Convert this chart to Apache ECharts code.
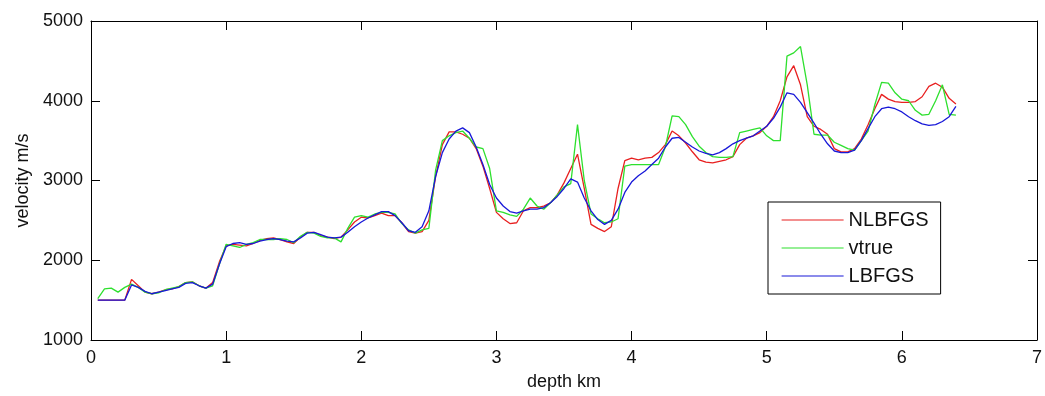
<!DOCTYPE html>
<html>
<head>
<meta charset="utf-8">
<script src="https://cdn.jsdelivr.net/npm/echarts@6/dist/echarts.min.js"></script>
<style>
html,body{margin:0;padding:0;background:#fff;}
#c{width:1045px;height:396px;}
</style>
</head>
<body>
<div id="c"></div>
<script>
const depth = [0.05,0.10,0.15,0.20,0.25,0.30,0.35,0.40,0.45,0.50,0.55,0.60,0.65,0.70,0.75,0.80,0.85,0.90,0.95,1.00,
1.05,1.10,1.15,1.20,1.25,1.30,1.35,1.40,1.45,1.50,1.55,1.60,1.65,1.70,1.75,1.80,1.85,1.90,1.95,2.00,
2.05,2.10,2.15,2.20,2.25,2.30,2.35,2.40,2.45,2.50,2.55,2.60,2.65,2.70,2.75,2.80,2.85,2.90,2.95,3.00,
3.05,3.10,3.15,3.20,3.25,3.30,3.35,3.40,3.45,3.50,3.55,3.60,3.65,3.70,3.75,3.80,3.85,3.90,3.95,4.00,
4.05,4.10,4.15,4.20,4.25,4.30,4.35,4.40,4.45,4.50,4.55,4.60,4.65,4.70,4.75,4.80,4.85,4.90,4.95,5.00,
5.05,5.10,5.15,5.20,5.25,5.30,5.35,5.40,5.45,5.50,5.55,5.60,5.65,5.70,5.75,5.80,5.85,5.90,5.95,6.00,
6.05,6.10,6.15,6.20,6.25,6.30,6.35,6.40];

const nlbfgs = [1500,1500,1500,1500,1500,1760,1680,1600,1580,1600,1630,1640,1670,1720,1730,1680,1650,1720,1980,2180,
2200,2190,2180,2210,2250,2270,2280,2260,2230,2210,2290,2350,2350,2310,2290,2270,2290,2380,2480,2540,
2530,2560,2590,2560,2560,2470,2360,2340,2360,2500,3050,3450,3610,3610,3580,3530,3400,3180,2900,2600,
2520,2460,2470,2620,2660,2660,2680,2720,2820,2970,3150,3330,2900,2450,2400,2360,2420,2900,3250,3280,
3260,3280,3290,3350,3450,3620,3560,3470,3360,3260,3230,3220,3240,3260,3300,3450,3530,3560,3600,3680,
3800,4000,4300,4440,4200,3800,3680,3640,3580,3400,3360,3360,3400,3520,3700,3900,4080,4020,3990,3980,
3980,3990,4050,4180,4220,4170,4030,3960];

const vtrue = [1520,1640,1650,1600,1660,1700,1660,1600,1580,1590,1630,1650,1670,1720,1730,1680,1650,1680,1950,2200,
2180,2160,2200,2220,2260,2260,2260,2270,2260,2220,2300,2350,2340,2300,2280,2280,2230,2400,2540,2560,
2540,2580,2600,2600,2580,2460,2380,2340,2380,2400,3130,3500,3560,3600,3620,3530,3420,3400,3150,2620,
2600,2570,2550,2640,2780,2680,2640,2720,2820,2920,2960,3700,3000,2580,2520,2470,2480,2520,3180,3200,
3200,3200,3200,3200,3420,3810,3800,3700,3550,3430,3350,3300,3290,3290,3300,3600,3620,3640,3660,3560,
3500,3500,4560,4600,4680,4200,3580,3570,3570,3480,3440,3400,3380,3500,3620,3950,4230,4220,4100,4020,
4000,3880,3820,3830,4000,4200,3830,3820];

const lbfgs = [1500,1500,1500,1500,1500,1690,1660,1610,1580,1600,1620,1640,1660,1710,1720,1680,1650,1700,1950,2170,
2210,2220,2200,2210,2240,2260,2270,2260,2240,2230,2280,2340,2350,2320,2290,2280,2290,2350,2420,2480,
2530,2570,2610,2610,2560,2470,2370,2350,2420,2620,3050,3350,3520,3620,3660,3600,3420,3200,2950,2780,
2680,2610,2590,2620,2640,2640,2660,2720,2800,2900,3020,2980,2780,2620,2510,2450,2500,2640,2850,2980,
3060,3120,3200,3280,3420,3530,3540,3480,3420,3370,3340,3320,3350,3400,3460,3500,3530,3560,3620,3680,
3780,3920,4100,4080,3980,3850,3720,3580,3460,3370,3350,3350,3380,3500,3650,3800,3900,3920,3900,3860,
3800,3750,3710,3690,3700,3740,3800,3930];

const seriesNames = ['NLBFGS','vtrue','LBFGS'];
const xTicks = [0,1,2,3,4,5,6,7];
const yTicks = [1000,2000,3000,4000,5000];

const colors = ['#e82020','#2ee02e','#1818d8'];
const pairs = v => depth.map((d,i)=>[d,v[i]]);
const font = 'Liberation Sans, Arial, Helvetica, sans-serif';

const chart = echarts.init(document.getElementById('c'));
function axisCommon(extra){
  return Object.assign({
    axisLine:{show:true,onZero:false,lineStyle:{color:'#000',width:1}},
    axisTick:{show:true,inside:true,length:9,lineStyle:{color:'#000'}},
    splitLine:{show:false}
  }, extra);
}
chart.setOption({
  animation:false,
  backgroundColor:'#fff',
  grid:{left:91,right:8,top:21,bottom:55,show:false},
  legend:{
    show:true,
    orient:'vertical',
    left:768, top:202,
    data:seriesNames,
    itemWidth:62, itemHeight:14, itemGap:8,
    itemStyle:{opacity:0},
    lineStyle:{width:1.2},
    padding:[8,12,8,13],
    borderColor:'#000', borderWidth:1, backgroundColor:'#fff',
    textStyle:{fontFamily:font,fontSize:20,color:'#111'}
  },
  xAxis:[
    axisCommon({type:'value',min:xTicks[0],max:xTicks[xTicks.length-1],interval:1,position:'bottom',
      name:'depth km',nameLocation:'middle',nameGap:33,
      nameTextStyle:{fontFamily:font,fontSize:18,color:'#111'},
      axisLabel:{fontFamily:font,fontSize:18,color:'#111',margin:9,formatter:v=>String(v)}}),
    axisCommon({type:'value',min:xTicks[0],max:xTicks[xTicks.length-1],interval:1,position:'top',axisLabel:{show:false}})
  ],
  yAxis:[
    axisCommon({type:'value',min:yTicks[0],max:yTicks[yTicks.length-1],interval:1000,position:'left',
      name:'velocity m/s',nameLocation:'middle',nameGap:58,
      nameTextStyle:{fontFamily:font,fontSize:18,color:'#111'},
      axisLabel:{fontFamily:font,fontSize:18,color:'#111',margin:8,formatter:v=>String(v)}}),
    axisCommon({type:'value',min:yTicks[0],max:yTicks[yTicks.length-1],interval:1000,position:'right',axisLabel:{show:false}})
  ],
  series:[
    {name:seriesNames[0],type:'line',data:pairs(nlbfgs),showSymbol:false,symbol:'none',
      lineStyle:{color:colors[0],width:1.3},itemStyle:{color:colors[0]},z:2},
    {name:seriesNames[1],type:'line',data:pairs(vtrue),showSymbol:false,symbol:'none',
      lineStyle:{color:colors[1],width:1.3},itemStyle:{color:colors[1]},z:3},
    {name:seriesNames[2],type:'line',data:pairs(lbfgs),showSymbol:false,symbol:'none',
      lineStyle:{color:colors[2],width:1.3},itemStyle:{color:colors[2]},z:4}
  ]
});
</script>
</body>
</html>
